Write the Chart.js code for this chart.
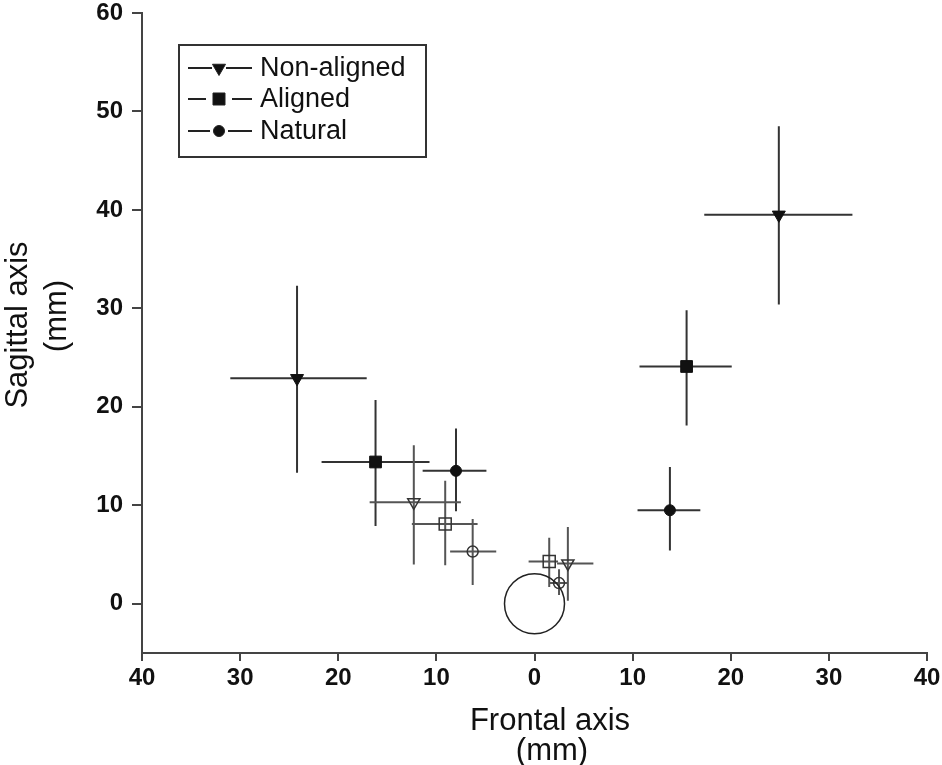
<!DOCTYPE html>
<html>
<head>
<meta charset="utf-8">
<script src="https://cdn.jsdelivr.net/npm/chart.js@4.4.1/dist/chart.umd.min.js"></script>
<style>
  html, body { margin: 0; padding: 0; background: #fff; }
  #wrap { width: 942px; height: 765px; }
</style>
</head>
<body>
<div id="wrap"><canvas id="chart"></canvas></div>
<script>
// each row: x, y, x low, x high, y low, y high (mm)
const nonAligned = [
  [-24.2, 22.9, -31.0, -17.1, 13.3, 32.3],
  [24.9, 39.5, 17.3, 32.4, 30.4, 48.5]
];
const aligned = [
  [-16.2, 14.4, -21.7, -10.7, 7.9, 20.7],
  [15.5, 24.1, 10.7, 20.1, 18.1, 29.8]
];
const natural = [
  [-8.0, 13.5, -11.4, -4.9, 9.4, 17.8],
  [13.8, 9.5, 10.5, 16.9, 5.4, 13.9]
];
const nonAlignedOpen = [
  [-12.3, 10.3, -16.8, -7.5, 4.0, 16.1],
  [3.4, 4.1, 2.3, 6.0, 0.3, 7.8]
];
const alignedOpen = [
  [-9.1, 8.1, -12.5, -5.8, 3.9, 12.5],
  [1.5, 4.3, -0.6, 2.4, 1.7, 6.7]
];
const naturalOpen = [
  [-6.3, 5.3, -8.6, -3.9, 1.9, 8.6],
  [2.5, 2.1, 1.5, 3.4, 0.9, 3.5]
];
const origin = [[0, 0]];
const xTicks = [-40, -30, -20, -10, 0, 10, 20, 30, 40];
const yTicks = [0, 10, 20, 30, 40, 50, 60];
const legendNames = ['Non-aligned', 'Aligned', 'Natural'];

const FONT = "'Liberation Sans', Arial, sans-serif";
const INK = '#111';

function toPoints(rows) {
  return rows.map(r => ({ x: r[0], y: r[1] }));
}

function drawMarker(ctx, style, x, y, r, filled) {
  ctx.beginPath();
  if (style === 'triangle') {
    ctx.moveTo(x - r * 0.87, y - r * 0.5);
    ctx.lineTo(x + r * 0.87, y - r * 0.5);
    ctx.lineTo(x, y + r);
    ctx.closePath();
  } else if (style === 'rect') {
    const s = r * Math.SQRT1_2;
    ctx.rect(x - s, y - s, 2 * s, 2 * s);
  } else {
    ctx.arc(x, y, r, 0, Math.PI * 2);
  }
  if (filled) ctx.fill();
  ctx.stroke();
}

const errorBars = {
  id: 'errorBars',
  beforeDatasetsDraw(chart) {
    const { ctx, scales: { x, y } } = chart;
    ctx.save();
    chart.data.datasets.forEach(ds => {
      if (!ds.rows || ds.rows[0].length < 6) return;
      ctx.strokeStyle = ds.barColor;
      ctx.lineWidth = 2;
      ds.rows.forEach(r => {
        const px = x.getPixelForValue(r[0]);
        const py = y.getPixelForValue(r[1]);
        ctx.beginPath();
        ctx.moveTo(x.getPixelForValue(r[2]), py);
        ctx.lineTo(x.getPixelForValue(r[3]), py);
        ctx.moveTo(px, y.getPixelForValue(r[4]));
        ctx.lineTo(px, y.getPixelForValue(r[5]));
        ctx.stroke();
      });
    });
    ctx.restore();
  }
};

// legend box and the two axis titles
const decorations = {
  id: 'decorations',
  afterDraw(chart) {
    const ctx = chart.ctx;
    ctx.save();
    ctx.strokeStyle = '#333';
    ctx.lineWidth = 2;
    ctx.strokeRect(179, 45, 247, 112);

    const styles = ['triangle', 'rect', 'circle'];
    const sizes = [7.5, 8.5, 5.5];
    const gaps = [7, 13, 9];
    const rowsY = [68, 99, 131];
    ctx.fillStyle = INK;
    ctx.font = '27px ' + FONT;
    ctx.textBaseline = 'middle';
    styles.forEach((st, i) => {
      const cy = rowsY[i], cx = 219;
      ctx.strokeStyle = '#222';
      ctx.lineWidth = 2;
      ctx.beginPath();
      ctx.moveTo(188, cy); ctx.lineTo(cx - gaps[i], cy);
      ctx.moveTo(cx + gaps[i], cy); ctx.lineTo(252, cy);
      ctx.stroke();
      ctx.lineWidth = 1;
      drawMarker(ctx, st, cx, cy, sizes[i], true);
      ctx.fillText(legendNames[i], 260, cy + 1);
    });

    ctx.font = '31px ' + FONT;
    ctx.textAlign = 'center';
    ctx.textBaseline = 'alphabetic';
    ctx.fillText('Frontal axis', 550, 730);
    ctx.fillText('(mm)', 552, 760);

    ctx.save();
    ctx.translate(27, 325);
    ctx.rotate(-Math.PI / 2);
    ctx.fillText('Sagittal axis', 0, 0);
    ctx.restore();
    ctx.save();
    ctx.translate(66, 316);
    ctx.rotate(-Math.PI / 2);
    ctx.fillText('(mm)', 0, 0);
    ctx.restore();
    ctx.restore();
  }
};

function series(label, rows, style, radius, filled, barColor) {
  return {
    label,
    rows,
    barColor,
    data: toPoints(rows),
    pointStyle: style,
    rotation: style === 'triangle' ? 180 : 0,
    pointRadius: radius,
    pointHoverRadius: radius,
    backgroundColor: filled ? INK : 'rgba(255,255,255,0)',
    borderColor: filled ? INK : '#333',
    borderWidth: filled ? 1 : 1.5
  };
}

const tickFont = { family: FONT, size: 24, weight: 'bold', lineHeight: 1 };

new Chart(document.getElementById('chart'), {
  type: 'scatter',
  data: {
    datasets: [
      {
        label: 'origin',
        rows: origin,
        data: toPoints(origin),
        pointStyle: 'circle',
        pointRadius: 30,
        pointHoverRadius: 30,
        backgroundColor: 'rgba(255,255,255,0)',
        borderColor: '#222',
        borderWidth: 1.5
      },
      series('Non-aligned', nonAligned, 'triangle', 7.5, true, '#333'),
      series('Aligned', aligned, 'rect', 8.3, true, '#333'),
      series('Natural', natural, 'circle', 5.5, true, '#333'),
      series('Non-aligned open', nonAlignedOpen, 'triangle', 7, false, '#555'),
      series('Aligned open', alignedOpen, 'rect', 8.5, false, '#555'),
      series('Natural open', naturalOpen, 'circle', 5.5, false, '#555')
    ]
  },
  options: {
    responsive: true,
    maintainAspectRatio: false,
    animation: false,
    devicePixelRatio: 1,
    layout: { autoPadding: false, padding: { top: 13, right: 15, left: 0, bottom: 0 } },
    plugins: { legend: { display: false }, tooltip: { enabled: false } },
    scales: {
      x: {
        type: 'linear',
        min: -40,
        max: 40,
        afterBuildTicks: s => { s.ticks = xTicks.map(v => ({ value: v })); },
        afterFit: s => {
          s.height = 112;
          s.paddingLeft = 0; s.paddingRight = 0;
        },
        ticks: {
          callback: v => String(Math.abs(v)),
          font: tickFont,
          color: INK,
          padding: 5,
          maxRotation: 0,
          autoSkip: false
        },
        grid: { drawOnChartArea: false, drawTicks: true, tickLength: 8, color: '#444', lineWidth: 2 },
        border: { display: true, color: '#444', width: 2 }
      },
      y: {
        type: 'linear',
        min: -5,
        max: 60,
        afterBuildTicks: s => { s.ticks = yTicks.map(v => ({ value: v })); },
        afterFit: s => {
          s.width = 142;
          s.paddingTop = 0; s.paddingBottom = 0;
        },
        ticks: { font: tickFont, color: INK, padding: 9, autoSkip: false },
        grid: { drawOnChartArea: false, drawTicks: true, tickLength: 10, color: '#444', lineWidth: 2 },
        border: { display: true, color: '#444', width: 2 }
      }
    }
  },
  plugins: [errorBars, decorations]
});
</script>
</body>
</html>
